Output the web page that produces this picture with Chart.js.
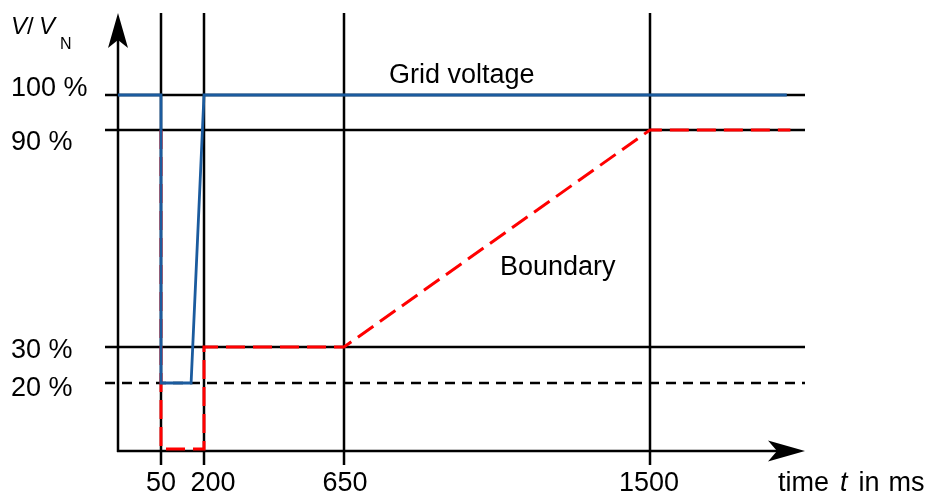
<!DOCTYPE html>
<html>
<head>
<meta charset="utf-8">
<script src="https://cdn.jsdelivr.net/npm/chart.js@4"></script>
<style>
  html, body { margin: 0; padding: 0; background: #ffffff; }
  #wrap { width: 926px; height: 491px; position: relative; }
</style>
</head>
<body>
<div id="wrap"><canvas id="c"></canvas></div>
<script>
// ---------------- data ----------------
const gridVoltageT = [0, 50, 50, 155, 200, 1880];      // ms
const gridVoltageV = [100, 100, 20, 20, 100, 100];     // % of V_N
const boundaryT    = [50, 50, 200, 200, 650, 1500, 1890];
const boundaryV    = [90, 0, 0, 30, 30, 90, 90];
const xTickValues  = [50, 200, 650, 1500];
const xTickLabels  = ['50', '200', '650', '1500'];
const yTickValues  = [100, 90, 30, 20];
const yTickLabels  = ['100 %', '90 %', '30 %', '20 %'];
const yTickDashed  = [false, false, false, true];

// ---------------- schematic (non-uniform) axis layout ----------------
const X_ANCHOR_MS  = [0, 50, 200, 650, 1500];
const X_ANCHOR_POS = [0, 43, 86, 226, 532];
const X_POS_MAX    = 687;
const Y_ANCHOR_PCT = [0, 20, 30, 90, 100];
const Y_ANCHOR_POS = [2, 68, 104, 321, 356];
const Y_POS_MAX    = 438;

function warp(v, A, P) {
  const n = A.length;
  if (v <= A[0]) return P[0] + (v - A[0]) * (P[1] - P[0]) / (A[1] - A[0]);
  for (let i = 1; i < n; i++) {
    if (v <= A[i]) return P[i - 1] + (v - A[i - 1]) * (P[i] - P[i - 1]) / (A[i] - A[i - 1]);
  }
  return P[n - 1] + (v - A[n - 1]) * (P[n - 1] - P[n - 2]) / (A[n - 1] - A[n - 2]);
}
const wx = v => warp(v, X_ANCHOR_MS, X_ANCHOR_POS);
const wy = v => warp(v, Y_ANCHOR_PCT, Y_ANCHOR_POS);

const FONT = "'Liberation Sans', Arial, sans-serif";
const FS = 27;
const xLabelDx = [0, 9, 1, -1];
const yLabelDy = [1, 20, 11, 13];

const schematic = {
  id: 'schematic',
  beforeDatasetsDraw(chart) {
    const ctx = chart.ctx, a = chart.chartArea;
    const xs = chart.scales.x, ys = chart.scales.y;
    ctx.save();
    ctx.strokeStyle = '#000';
    ctx.lineWidth = 2.5;
    // horizontal level lines
    yTickValues.forEach((v, i) => {
      const y = Math.round(ys.getPixelForValue(wy(v)));
      ctx.setLineDash(yTickDashed[i] ? [10, 7] : []);
      ctx.beginPath(); ctx.moveTo(a.left - 13, y); ctx.lineTo(a.right, y); ctx.stroke();
    });
    ctx.setLineDash([]);
    // vertical time lines
    xTickValues.forEach(v => {
      const x = Math.round(xs.getPixelForValue(wx(v)));
      ctx.beginPath(); ctx.moveTo(x, a.top); ctx.lineTo(x, a.bottom + 14); ctx.stroke();
    });
    // axes
    ctx.beginPath(); ctx.moveTo(a.left, a.bottom + 1); ctx.lineTo(a.left, a.top + 20); ctx.stroke();
    ctx.beginPath(); ctx.moveTo(a.left - 1, a.bottom); ctx.lineTo(a.right - 20, a.bottom); ctx.stroke();
    ctx.restore();
  },
  afterDatasetsDraw(chart) {
    const ctx = chart.ctx, a = chart.chartArea;
    const xs = chart.scales.x, ys = chart.scales.y;
    ctx.save();
    ctx.fillStyle = '#000';
    // arrow heads
    ctx.beginPath();
    ctx.moveTo(a.left, a.top);
    ctx.lineTo(a.left - 10, a.top + 35);
    ctx.lineTo(a.left, a.top + 27);
    ctx.lineTo(a.left + 10, a.top + 35);
    ctx.closePath(); ctx.fill();
    ctx.beginPath();
    ctx.moveTo(a.right, a.bottom);
    ctx.lineTo(a.right - 37, a.bottom - 10.5);
    ctx.lineTo(a.right - 28, a.bottom);
    ctx.lineTo(a.right - 37, a.bottom + 10.5);
    ctx.closePath(); ctx.fill();

    // tick labels
    ctx.font = FS + 'px ' + FONT;
    ctx.textBaseline = 'alphabetic';
    ctx.textAlign = 'center';
    xTickValues.forEach((v, i) => {
      const x = xs.getPixelForValue(wx(v));
      ctx.fillText(xTickLabels[i], x + xLabelDx[i], a.bottom + 40);
    });
    ctx.textAlign = 'left';
    yTickValues.forEach((v, i) => {
      const y = ys.getPixelForValue(wy(v));
      ctx.fillText(yTickLabels[i], 11, y + yLabelDy[i]);
    });

    // x axis title: time t in ms
    let tx = 778;
    const ty = a.bottom + 40;
    const gap = 11;
    ctx.font = FS + 'px ' + FONT;
    ctx.fillText('time', tx, ty); tx += ctx.measureText('time').width + gap;
    ctx.font = 'italic ' + FS + 'px ' + FONT;
    ctx.fillText('t', tx, ty); tx += ctx.measureText('t').width + gap;
    ctx.font = FS + 'px ' + FONT;
    ctx.fillText('in', tx, ty); tx += ctx.measureText('in').width + gap - 2;
    ctx.fillText('ms', tx, ty);

    // y axis title: V/ V_N
    ctx.font = 'italic 24px ' + FONT;
    ctx.fillText('V', 11, 34);
    ctx.font = '24px ' + FONT;
    ctx.fillText('/', 27, 34);
    ctx.font = 'italic 24px ' + FONT;
    ctx.fillText('V', 39, 34);
    ctx.font = '16px ' + FONT;
    ctx.fillText('N', 60, 49);

    // curve labels
    ctx.font = FS + 'px ' + FONT;
    ctx.fillText('Grid voltage', xs.getPixelForValue(wx(775)), ys.getPixelForValue(wy(103.4)));
    ctx.fillText('Boundary', xs.getPixelForValue(wx(1083)), ys.getPixelForValue(wy(50)));
    ctx.restore();
  }
};

const toPts = (T, V) => T.map((t, i) => ({ x: wx(t), y: wy(V[i]) }));

new Chart(document.getElementById('c'), {
  type: 'line',
  data: {
    datasets: [
      {
        label: 'Grid voltage',
        data: toPts(gridVoltageT, gridVoltageV),
        borderColor: '#1b5b9e',
        borderWidth: 2.8,
        pointRadius: 0,
        tension: 0,
        fill: false
      },
      {
        label: 'Boundary',
        data: toPts(boundaryT, boundaryV),
        borderColor: '#ff0000',
        borderWidth: 3,
        borderDash: [19, 8],
        pointRadius: 0,
        tension: 0,
        fill: false
      }
    ]
  },
  options: {
    responsive: true,
    maintainAspectRatio: false,
    animation: false,
    devicePixelRatio: 1,
    layout: { padding: { left: 118, right: 121, top: 13, bottom: 40 } },
    plugins: { legend: { display: false }, tooltip: { enabled: false } },
    scales: {
      x: { type: 'linear', min: 0, max: X_POS_MAX, display: false },
      y: { type: 'linear', min: 0, max: Y_POS_MAX, display: false }
    },
    elements: { line: { borderCapStyle: 'butt', borderJoinStyle: 'miter' } }
  },
  plugins: [schematic]
});
</script>
</body>
</html>
